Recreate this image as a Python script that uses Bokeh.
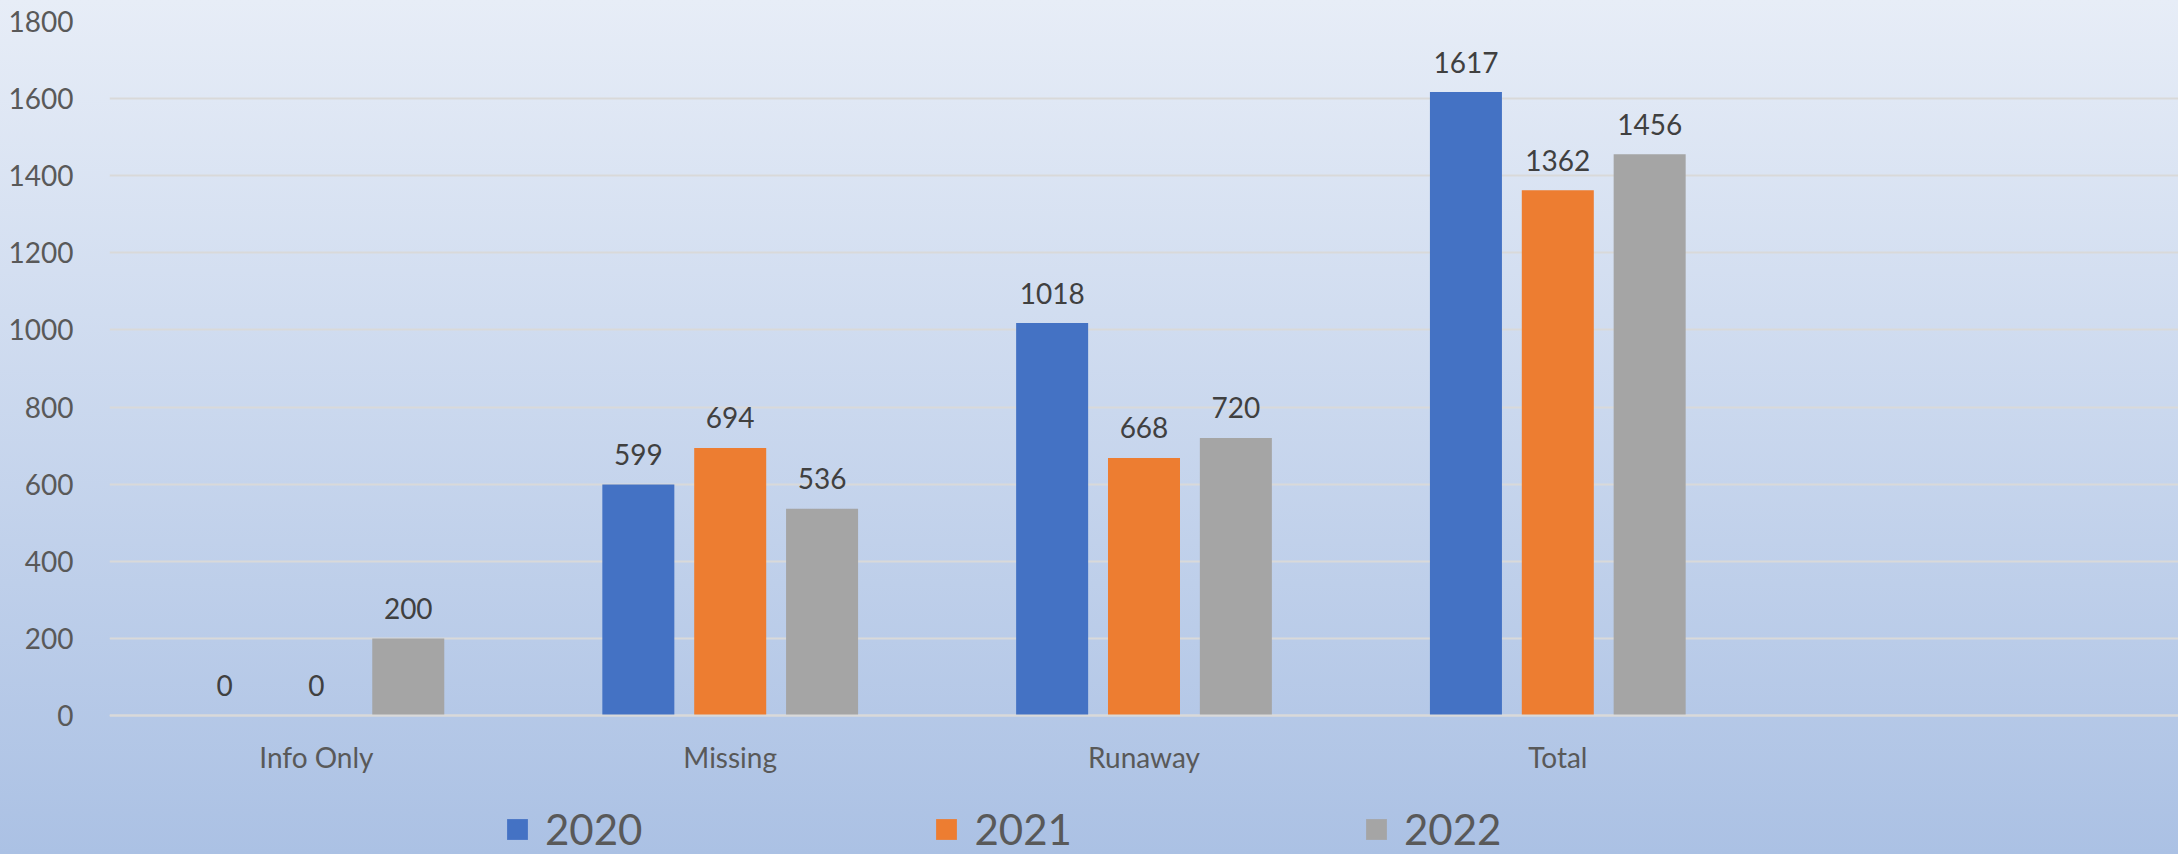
from bokeh.plotting import figure
from bokeh.models import ColumnDataSource, FactorRange, FixedTicker, LabelSet, Legend, LegendItem
from bokeh.transform import dodge
from bokeh.core.properties import value
from bokeh.embed import file_html
from bokeh.resources import INLINE

# ---- data ----
categories = ["Info Only", "Missing", "Runaway", "Total"]
axis_factors = categories + [" "]
years = ["2020", "2021", "2022"]
values_2020 = [0, 599, 1018, 1617]
values_2021 = [0, 694, 668, 1362]
values_2022 = [200, 536, 720, 1456]
y_ticks = [0, 200, 400, 600, 800, 1000, 1200, 1400, 1600, 1800]

colors = ["#4472C4", "#ED7D31", "#A5A5A5"]
offsets = [-0.222, 0.0, 0.222]
series = [values_2020, values_2021, values_2022]

FONT = "Lato"
W, H = 2178, 854
TOP, ZERO_Y, LEFT = 21, 715, 109
y_max = 1800
y_min = -y_max * (H - ZERO_Y) / (ZERO_Y - TOP)

p = figure(
    x_range=FactorRange(factors=axis_factors),
    y_range=(y_min, y_max),
    width=W, height=H,
    output_backend="svg", toolbar_location=None,
    min_border_left=LEFT, min_border_right=0,
    min_border_top=TOP, min_border_bottom=0,
)
p.background_fill_alpha = 0
p.border_fill_alpha = 0
p.outline_line_color = None

items = []
for yr, vals, col, off in zip(years, series, colors, offsets):
    src = ColumnDataSource(dict(cat=categories, val=vals, txt=[str(v) for v in vals]))
    r = p.vbar(x=dodge("cat", off, range=p.x_range), top="val", bottom=0, width=0.174,
               source=src, fill_color=col, line_color=None)
    items.append(LegendItem(label=yr, renderers=[r]))
    lbl = LabelSet(x=dodge("cat", off, range=p.x_range), y="val", text="txt",
                   source=src, y_offset=30, text_align="center", text_baseline="middle",
                   text_font=value(FONT), text_font_size="28px", text_color="#404040")
    p.add_layout(lbl)

# axes
p.yaxis.ticker = FixedTicker(ticks=y_ticks)
p.ygrid.ticker = FixedTicker(ticks=y_ticks)
p.ygrid.grid_line_color = "#D9D9D9"
p.ygrid.grid_line_width = 2
p.xgrid.visible = False

for ax in (p.xaxis, p.yaxis):
    ax.major_tick_line_color = None
    ax.minor_tick_line_color = None
    ax.major_label_text_font = FONT
    ax.major_label_text_font_size = "28px"
    ax.major_label_text_color = "#595959"
p.yaxis.axis_line_color = None
p.yaxis.major_label_standoff = 30
p.xaxis.fixed_location = 0
p.xaxis.axis_line_color = "#D9D9D9"
p.xaxis.axis_line_width = 2
p.xaxis.major_label_standoff = 18

legend = Legend(
    items=items, orientation="horizontal", location=(504 - LEFT, 0),
    glyph_width=26, glyph_height=26, label_standoff=15, spacing=291,
    padding=0, margin=0, border_line_color=None, background_fill_alpha=0,
    label_text_font=FONT, label_text_font_size="42px", label_text_color="#595959",
)
p.add_layout(legend, "center")

html = file_html(p, INLINE, title="chart")
css = ("<style>html{min-height:100%;background:linear-gradient(to bottom,#E7EDF7 0%,#ABC1E4 100%) fixed;}"
       "body{background:transparent;}</style>")
html = html.replace("</head>", css + "</head>", 1)
open("out.html", "w").write(html)
